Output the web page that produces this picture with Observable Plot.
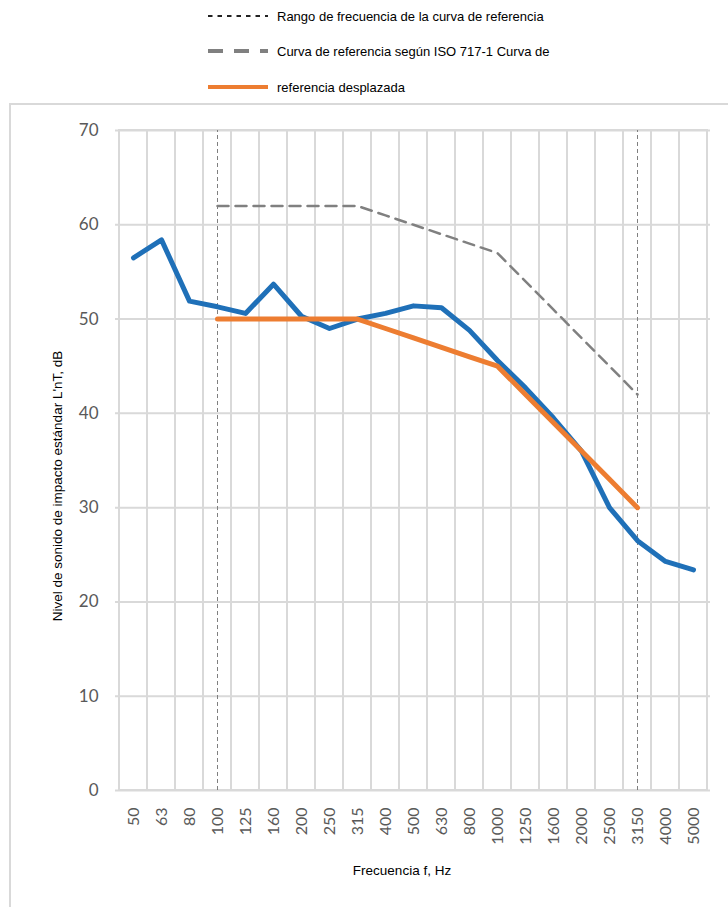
<!DOCTYPE html>
<html>
<head>
<meta charset="utf-8">
<script src="https://cdn.jsdelivr.net/npm/d3@7"></script>
<script src="https://cdn.jsdelivr.net/npm/@observablehq/plot@0.6"></script>
<style>
  html, body { margin: 0; padding: 0; background: #fff; }
  #wrap { position: relative; width: 728px; height: 907px; overflow: hidden; font-family: "Liberation Sans", Arial, sans-serif; }
  #frame { position: absolute; left: 9px; top: 103px; width: 800px; height: 900px; border: 2px solid #d9d9d9; box-sizing: border-box; }
  #legend { position: absolute; left: 0; top: 0; width: 728px; height: 104px; }
  .lg { position: absolute; left: 207px; height: 20px; display: flex; align-items: center; font-size: 13px; color: #000; }
  .lg svg { margin-right: 8px; }
  #chart { position: absolute; left: 0; top: 104px; }
  #ylab { position: absolute; left: 57px; top: 486px; transform: translate(-50%, -50%) rotate(-90deg); white-space: nowrap; font-size: 13.5px; color: #000; }
  #xlab { position: absolute; left: 402px; top: 870px; transform: translate(-50%, -50%); white-space: nowrap; font-size: 13.5px; color: #000; }
</style>
</head>
<body>
<div id="wrap">
  <div id="frame"></div>
  <div id="legend"></div>
  <div id="chart"></div>
  <div id="ylab"></div>
  <div id="xlab"></div>
</div>
<script>
// ---- data ----
const frequencies = ["50","63","80","100","125","160","200","250","315","400","500","630","800","1000","1250","1600","2000","2500","3150","4000","5000"];
const measured = [56.5, 58.4, 51.9, 51.3, 50.6, 53.7, 50.3, 49.0, 50.0, 50.6, 51.4, 51.2, 48.8, 45.6, 42.7, 39.5, 36.0, 30.0, 26.5, 24.3, 23.4];
const refFrequencies = ["100","125","160","200","250","315","400","500","630","800","1000","1250","1600","2000","2500","3150"];
const isoReference = [62, 62, 62, 62, 62, 62, 61, 60, 59, 58, 57, 54, 51, 48, 45, 42];
const shiftedReference = [50, 50, 50, 50, 50, 50, 49, 48, 47, 46, 45, 42, 39, 36, 33, 30];
const rangeLimits = ["100", "3150"];
const yTicks = [0, 10, 20, 30, 40, 50, 60, 70];
const legendLabels = [
  "Rango de frecuencia de la curva de referencia",
  "Curva de referencia según ISO 717-1 Curva de",
  "referencia desplazada"
];
const xLabel = "Frecuencia f, Hz";
const yLabel = "Nivel de sonido de impacto estándar L'nT, dB";

const measuredData = frequencies.map((f, i) => ({f, v: measured[i]}));
const isoData = refFrequencies.map((f, i) => ({f, v: isoReference[i]}));
const shiftedData = refFrequencies.map((f, i) => ({f, v: shiftedReference[i]}));

const BLUE = "#1F70B8", ORANGE = "#ED7D31", GRAY = "#808080", GRID = "#d9d9d9";

// ---- legend ----
const legendStyles = [
  {stroke: "#222", width: 2, dash: "4.5 5"},
  {stroke: GRAY, width: 4, dash: "15 11"},
  {stroke: ORANGE, width: 4, dash: null}
];
const legendTops = [6, 41, 77];
const legendEl = document.getElementById("legend");
legendLabels.forEach((t, i) => {
  const row = document.createElement("div");
  row.className = "lg";
  row.style.top = legendTops[i] + "px";
  const s = legendStyles[i];
  row.innerHTML = `<svg width="62" height="10"><line x1="1" x2="61" y1="5" y2="5" stroke="${s.stroke}" stroke-width="${s.width}" ${s.dash ? `stroke-dasharray="${s.dash}"` : ""}/></svg><span>${t}</span>`;
  legendEl.appendChild(row);
});
document.getElementById("ylab").textContent = yLabel;
document.getElementById("xlab").textContent = xLabel;

// ---- chart ----
const chart = Plot.plot({
  width: 728,
  height: 803,
  marginLeft: 115,
  marginRight: 18,
  marginTop: 26,
  marginBottom: 117,
  style: {fontFamily: "Lato, 'Open Sans', sans-serif", background: "transparent", overflow: "visible"},
  x: {type: "band", domain: frequencies, padding: 0, align: 0.5},
  y: {domain: [0, 70]},
  marks: [
    Plot.barY(frequencies, {x: d => d, y1: 0, y2: 70, fill: "none", stroke: GRID, strokeWidth: 2}),
    Plot.ruleY(yTicks, {stroke: GRID, strokeWidth: 2}),
    Plot.axisY({ticks: yTicks, tickSize: 0, tickPadding: 17, fontSize: 17, color: "#595959", label: null}),
    Plot.axisX({tickSize: 0, tickPadding: 17, tickRotate: -90, fontSize: 16, color: "#595959", label: null}),
    Plot.ruleX(rangeLimits, {x: d => d, y1: 0, y2: 70, stroke: "#7f7f7f", strokeWidth: 1, strokeDasharray: "4 3"}),
    Plot.line(isoData, {x: "f", y: "v", stroke: GRAY, strokeWidth: 2.5, strokeDasharray: "11 7"}),
    Plot.line(measuredData, {x: "f", y: "v", stroke: BLUE, strokeWidth: 5, strokeLinejoin: "round", strokeLinecap: "round"}),
    Plot.line(shiftedData, {x: "f", y: "v", stroke: ORANGE, strokeWidth: 5, strokeLinejoin: "round"})
  ]
});
document.getElementById("chart").appendChild(chart);
</script>
</body>
</html>
